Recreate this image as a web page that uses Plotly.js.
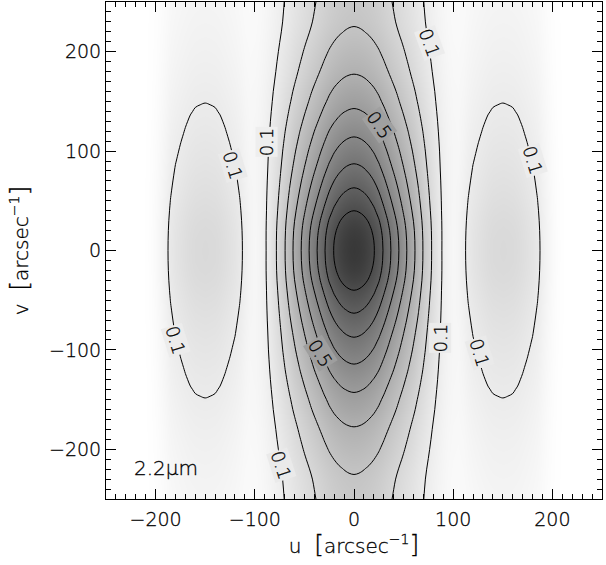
<!DOCTYPE html>
<html><head><meta charset="utf-8">
<script src="https://cdn.plot.ly/plotly-3.0.1.min.js"></script>
<style>html,body{margin:0;padding:0;background:#fff}#chart{width:606px;height:565px}
#chart svg text{stroke:#000;stroke-width:0.3px}</style>
</head><body><div id="chart"></div>
<script>
// |u| sample points [arcsec^-1]
const U_SAMPLES = [0,5,10,15,20,25,30,35,40,45,50,55,60,65,70,75,80,85,90,95,100,105,110,115,120,125,130,135,140,145,150,155,160,165,170,175,180,185,190,195,200,205,210,215,220,225,230,235,240,245,250];
// central lobe profile along u (at v = 0)
const CENTRAL_U = [1.000,0.993,0.975,0.945,0.905,0.853,0.790,0.727,0.665,0.603,0.540,0.478,0.418,0.357,0.293,0.235,0.181,0.128,0.085,0.045,0.012,0,0,0,0,0,0,0,0,0,0,0,0,0,0,0,0,0,0,0,0,0,0,0,0,0,0,0,0,0,0];
// side lobe profile along |u| (at v = 0)
const SIDE_U = [0,0,0,0,0,0,0,0,0,0,0,0,0,0,0,0,0,0,0.004,0.013,0.030,0.055,0.085,0.115,0.136,0.151,0.165,0.177,0.185,0.188,0.190,0.188,0.185,0.177,0.165,0.151,0.136,0.115,0.085,0.055,0.030,0.013,0.004,0,0,0,0,0,0,0,0];
// |v| sample points [arcsec^-1]
const V_SAMPLES = [0,10,20,30,40,50,60,70,80,90,100,110,120,130,140,150,160,170,180,190,200,210,220,230,240,250];
// central lobe profile along v (at u = 0)
const CENTRAL_V = [1.000,0.994,0.976,0.944,0.900,0.856,0.813,0.771,0.729,0.689,0.652,0.615,0.580,0.543,0.509,0.477,0.449,0.420,0.393,0.370,0.349,0.328,0.308,0.293,0.284,0.276];
// side lobe profile along v (at |u| = 150)
const SIDE_V = [1.000,0.995,0.979,0.953,0.917,0.876,0.837,0.798,0.760,0.722,0.686,0.652,0.618,0.586,0.553,0.521,0.492,0.464,0.439,0.412,0.389,0.368,0.349,0.330,0.312,0.297];
// widening of the central lobe in u versus |v|
const WIDTH_V = [1.000,1.001,1.003,1.006,1.010,1.015,1.020,1.025,1.030,1.036,1.042,1.047,1.052,1.057,1.061,1.065,1.069,1.072,1.075,1.078,1.080,1.083,1.085,1.087,1.088,1.090];
const LEVEL_START = 0.1, LEVEL_END = 0.9, LEVEL_STEP = 0.1;
const TICKS = [-200,-100,0,100,200];
const WAVELENGTH_LABEL = '2.2\u03bcm';

function lookup(xs, ys, x){
  if (x <= xs[0]) return ys[0];
  const n = xs.length;
  if (x >= xs[n-1]) return ys[n-1];
  let i = 0; while (xs[i+1] < x) i++;
  const t = (x - xs[i])/(xs[i+1]-xs[i]);
  return ys[i] + t*(ys[i+1]-ys[i]);
}
function mirror(a){ return a.slice(1).reverse().map(x=>-x).concat(a); }
const uGrid = mirror(U_SAMPLES);
const vGrid = mirror(V_SAMPLES);
function zAt(u, v){
  const av = Math.abs(v), au = Math.abs(u);
  const s = lookup(V_SAMPLES, WIDTH_V, av);
  return lookup(U_SAMPLES, CENTRAL_U, au/s)*lookup(V_SAMPLES, CENTRAL_V, av)
       + lookup(U_SAMPLES, SIDE_U, au)*lookup(V_SAMPLES, SIDE_V, av);
}
const z = vGrid.map(v => uGrid.map(u => zAt(u, v)));

const DARK = 56;
function shade(val){ const c = Math.round(255 - Math.max(0,Math.min(1,val))*(255-DARK)); return 'rgb('+c+','+c+','+c+')'; }

const labels = [
  {t:'0.1', u:76.6, v:208.5, a:70},
  {t:'0.1', u:-88, v:109.5, a:-90},
  {t:'0.5', u:26.2, v:126, a:55},
  {t:'0.5', u:-33.6, v:-103.4, a:58},
  {t:'0.1', u:86.7, v:-88.4, a:-90},
  {t:'0.1', u:-73, v:-216, a:72},
  {t:'0.1', u:-121.7, v:86, a:73},
  {t:'0.1', u:-180.4, v:-90, a:73},
  {t:'0.1', u:180.8, v:91, a:73},
  {t:'0.1', u:127, v:-103.4, a:73}
];
const FONT = 'DejaVu Sans, Verdana, sans-serif';
const W = 300;
const annotations = labels.map(l => ({
  x:l.u, y:l.v, xref:'x', yref:'y', text:l.t, textangle:l.a, showarrow:false,
  font:{family:FONT, size:18, color:'black', weight:W}, bgcolor:shade(zAt(l.u,l.v)), borderpad:0
}));
annotations.push({x:-190, y:-219, xref:'x', yref:'y', text:WAVELENGTH_LABEL, showarrow:false,
  font:{family:FONT, size:20, color:'black', weight:W}});

const traces = [
  {type:'heatmap', x:uGrid, y:vGrid, z:z, zsmooth:'best', zmin:0, zmax:1,
   colorscale:[[0,'rgb(255,255,255)'],[1,shade(1)]], showscale:false, hoverinfo:'skip'},
  {type:'contour', x:uGrid, y:vGrid, z:z, showscale:false,
   contours:{start:LEVEL_START, end:LEVEL_END+LEVEL_STEP/2, size:LEVEL_STEP, coloring:'none'},
   line:{color:'black', width:1, smoothing:1}, hoverinfo:'skip'}
];
function axTitle(letter){
  return letter + '\u00a0\u00a0<span style="font-size:25px">[</span>arcsec<sup>\u22121</sup><span style="font-size:25px">]</span>';
}
const axisBase = {
  range:[-250,250], tickvals:TICKS, ticks:'inside', ticklen:10, tickwidth:1, tickcolor:'black',
  showline:true, linecolor:'black', linewidth:1, mirror:'allticks', showgrid:false, zeroline:false,
  minor:{dtick:10, ticks:'inside', ticklen:5, tickcolor:'black', tickwidth:1, showgrid:false},
  tickfont:{family:FONT, size:19, color:'black', weight:W}
};
const layout = {
  width:606, height:565, margin:{l:106, r:4, t:2, b:66},
  paper_bgcolor:'white', plot_bgcolor:'white', showlegend:false,
  xaxis:Object.assign({}, axisBase, {ticklabelstandoff:3, title:{text:axTitle('u'), font:{family:FONT, size:20, color:'black', weight:W}, standoff:8}}),
  yaxis:Object.assign({}, axisBase, {title:{text:axTitle('v'), font:{family:FONT, size:20, color:'black', weight:W}, standoff:15}}),
  annotations:annotations
};
Plotly.newPlot('chart', traces, layout, {staticPlot:true, displayModeBar:false});
</script></body></html>
